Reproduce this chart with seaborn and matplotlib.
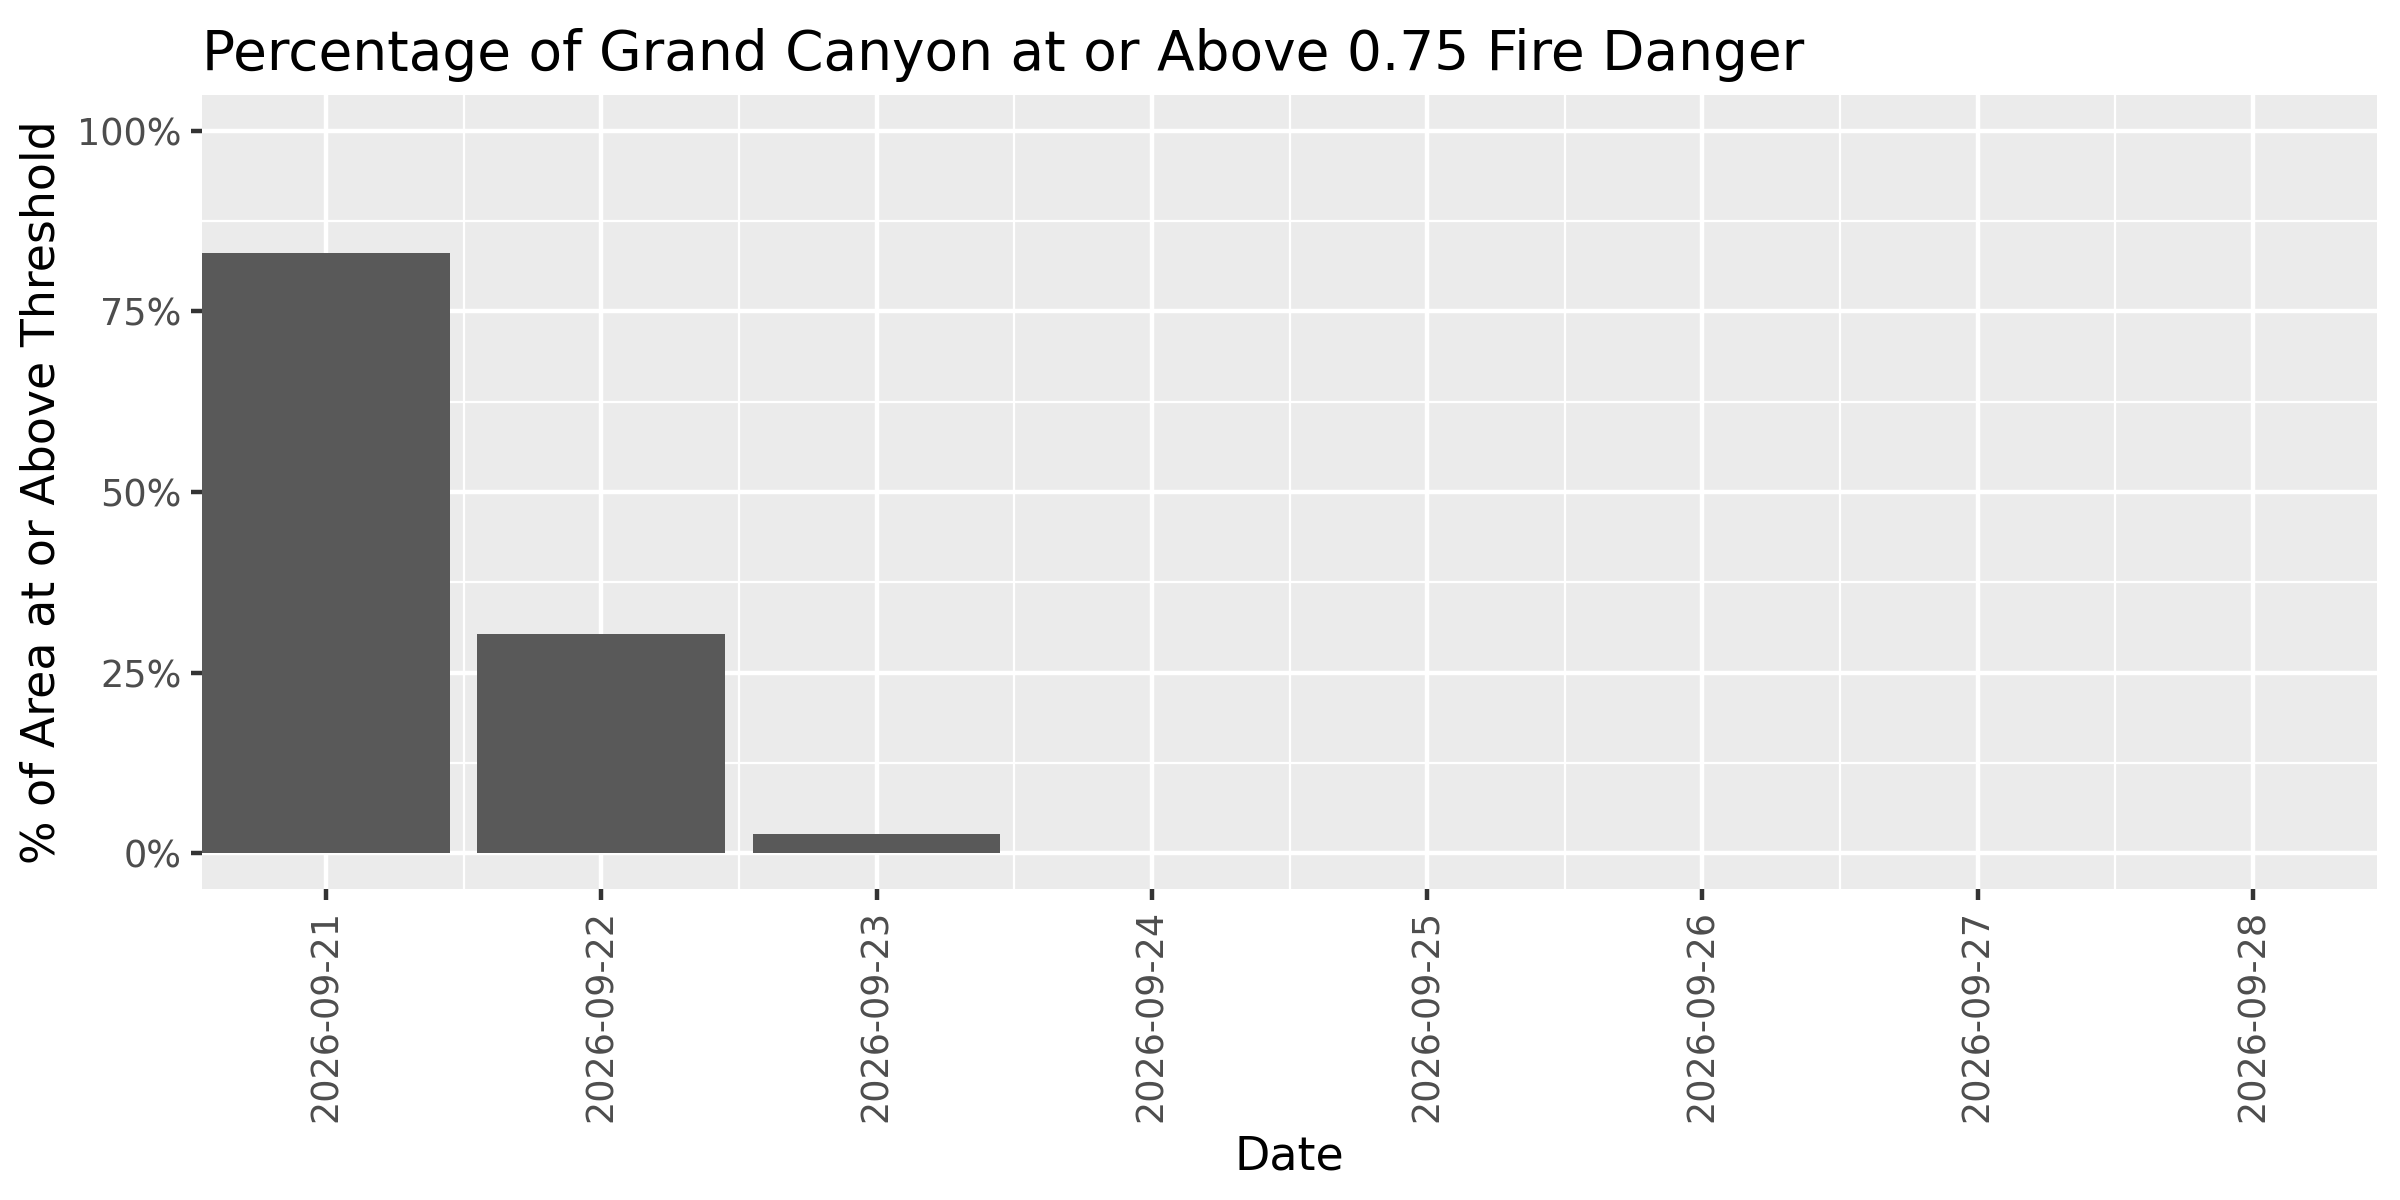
import pandas as pd
import numpy as np
import matplotlib
matplotlib.use("Agg")
import matplotlib.pyplot as plt
import seaborn as sns
from matplotlib.ticker import FixedLocator, PercentFormatter

# data
dates = ["2026-09-21", "2026-09-22", "2026-09-23", "2026-09-24",
         "2026-09-25", "2026-09-26", "2026-09-27", "2026-09-28"]
pct_above = [83.1, 30.3, 2.6, 0.0, 0.0, 0.0, 0.0, 0.0]
y_ticks = [0, 25, 50, 75, 100]

df = pd.DataFrame({"Date": dates, "Pct": pct_above})

sns.set_theme(style="white")
plt.rcParams["font.family"] = ["DejaVu Sans"]

fig, ax = plt.subplots(figsize=(8, 4), dpi=300)
fig.subplots_adjust(left=0.0842, right=0.9904, top=0.921, bottom=0.259)

ax.set_facecolor("#EBEBEB")
sns.barplot(data=df, x="Date", y="Pct", color="#595959", saturation=1,
            width=0.9, ax=ax, zorder=3, edgecolor="none", linewidth=0)

ax.set_xlim(-0.45, len(dates) - 0.55)
ax.set_ylim(-5, 105)

# grid like ggplot's theme_gray
ax.yaxis.set_major_locator(FixedLocator(y_ticks))
ax.yaxis.set_minor_locator(FixedLocator([12.5, 37.5, 62.5, 87.5]))
ax.xaxis.set_minor_locator(FixedLocator(np.arange(0.5, len(dates) - 1, 1)))
ax.grid(which="major", color="white", linewidth=1.07, zorder=0)
ax.grid(which="minor", color="white", linewidth=0.53, zorder=0)
ax.set_axisbelow(True)
for s in ax.spines.values():
    s.set_visible(False)

ax.yaxis.set_major_formatter(PercentFormatter(decimals=0))
ax.tick_params(axis="both", which="major", length=2.75, width=1.07,
               color="#333333", labelcolor="#4D4D4D", labelsize=8.8, pad=2.2,
               bottom=True, left=True)
ax.tick_params(axis="both", which="minor", length=0)
plt.setp(ax.get_xticklabels(), rotation=90, va="top", ha="center")

ax.set_xlabel("Date", fontsize=11, color="black", labelpad=3)
ax.set_ylabel("% of Area at or Above Threshold", fontsize=11, color="black", labelpad=3)
ax.set_title("Percentage of Grand Canyon at or Above 0.75 Fire Danger",
             fontsize=13.2, loc="left", color="black", pad=6)

fig.savefig("out.png", dpi=300)
